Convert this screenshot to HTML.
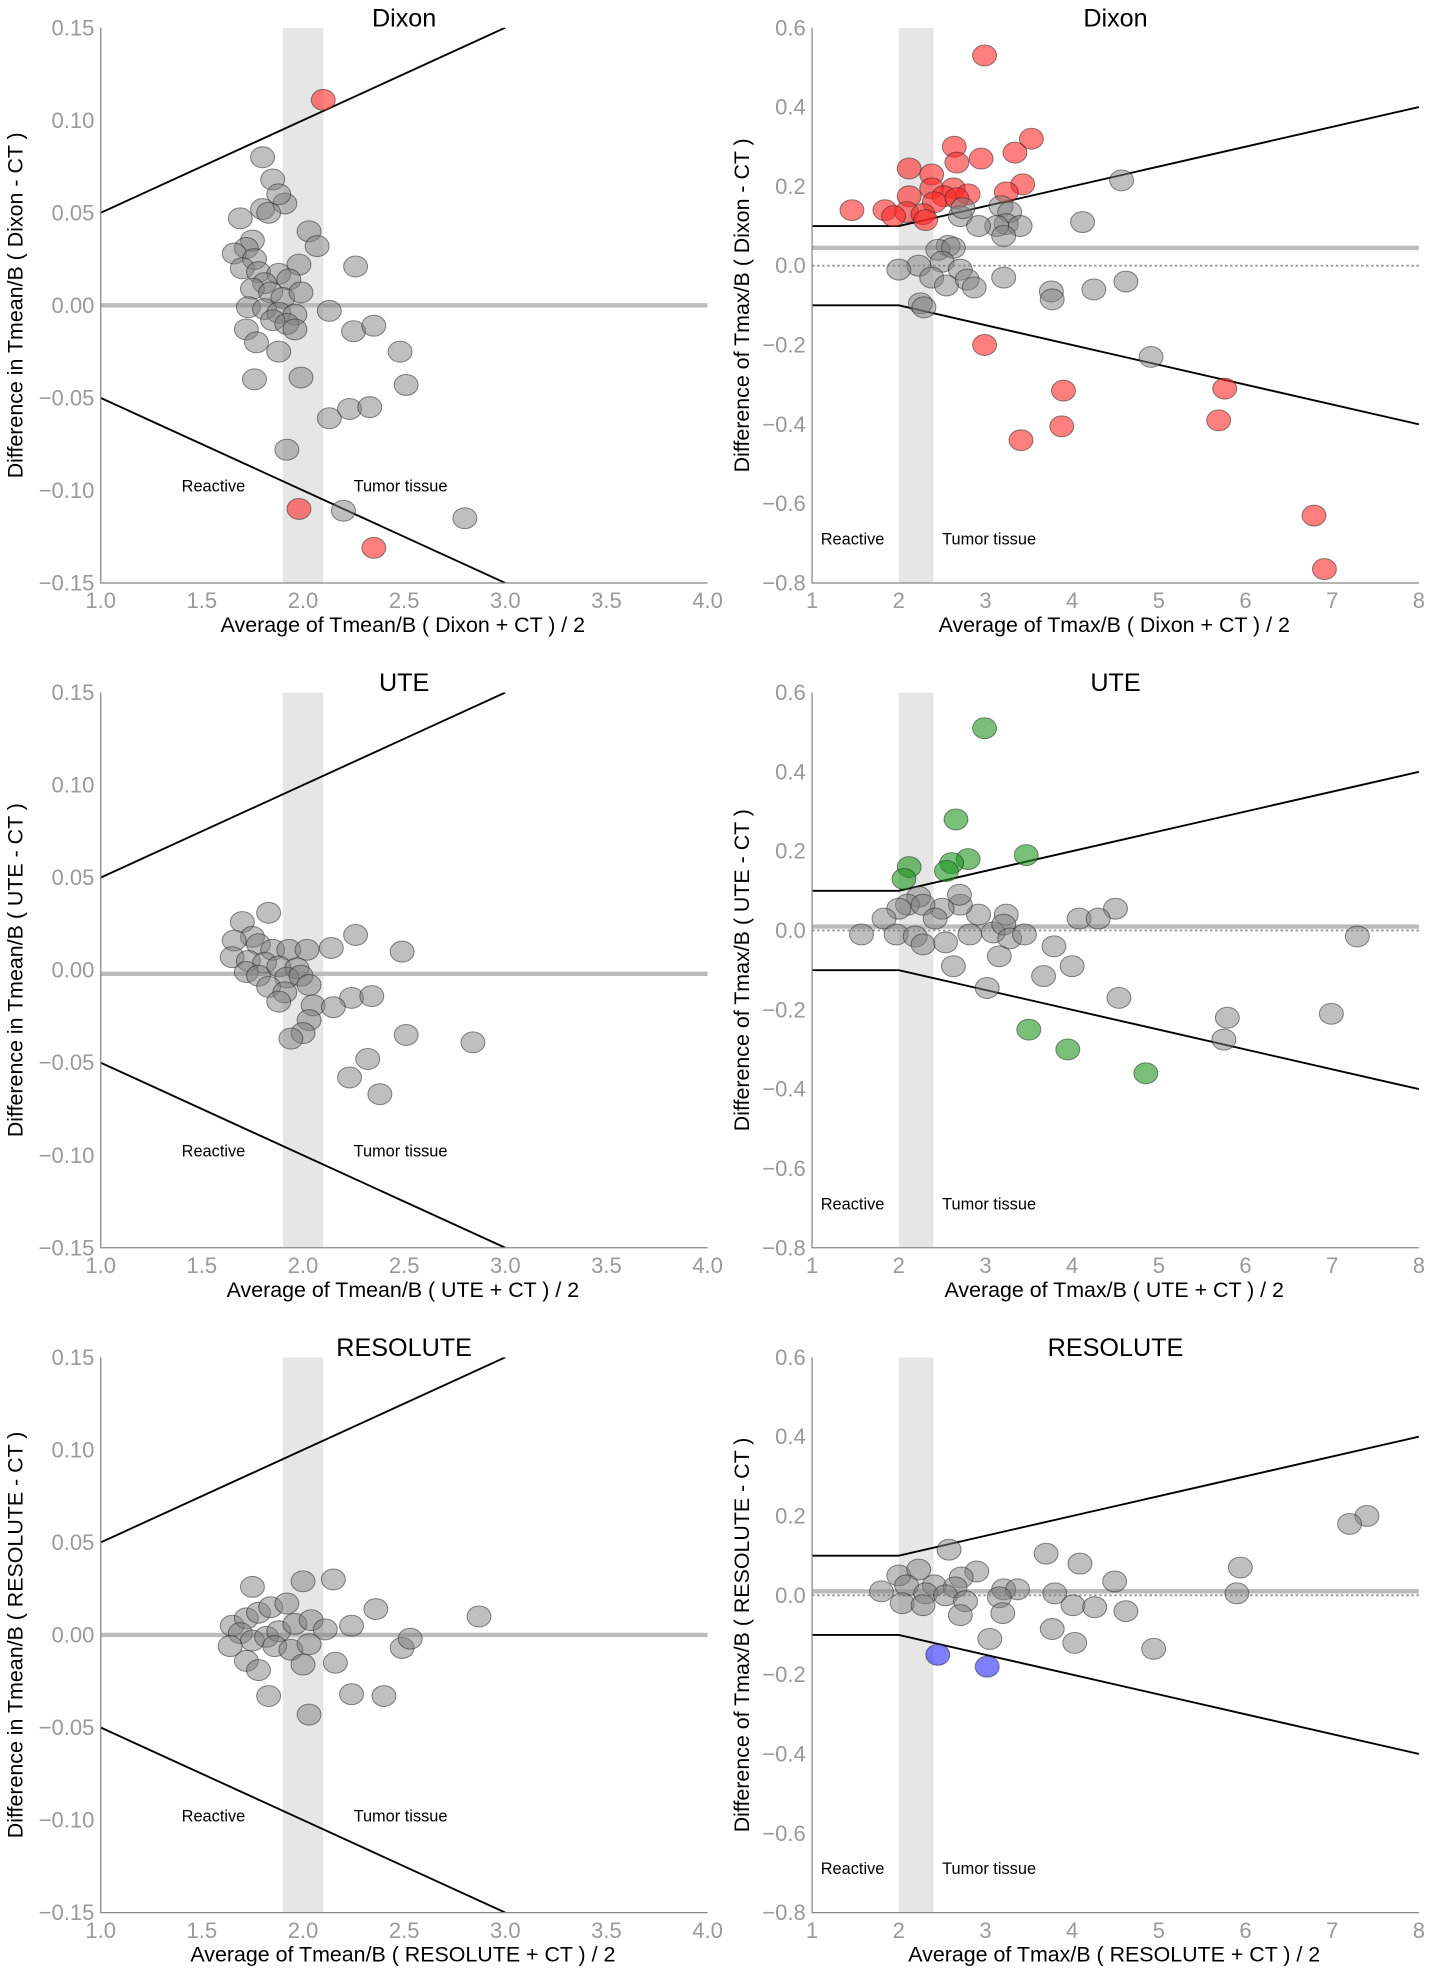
<!DOCTYPE html>
<html><head><meta charset="utf-8"><style>
html,body{margin:0;padding:0;background:#fff;}
svg{display:block;font-family:"Liberation Sans","DejaVu Sans",sans-serif;}
</style></head><body>
<svg id="chart" width="1429" height="1968" viewBox="0 0 1135 1563" preserveAspectRatio="none" xmlns="http://www.w3.org/2000/svg"></svg>
<script>
// ---- data arrays ----
const dixonMeanX=[2.10,1.80,1.85,1.69,1.91,1.80,1.83,1.88,2.03,2.07,1.75,1.72,1.66,1.76,1.70,1.78,1.98,2.26,1.88,1.93,1.81,1.75,1.84,1.90,1.99,1.73,1.81,1.88,1.96,2.13,1.85,1.92,1.96,1.72,1.77,2.25,2.35,1.88,2.48,1.76,1.99,2.51,2.13,2.23,2.33,1.92,1.98,2.20,2.80,2.35];
const dixonMeanY=[0.111,0.080,0.068,0.047,0.055,0.052,0.050,0.060,0.040,0.032,0.035,0.031,0.028,0.025,0.020,0.018,0.022,0.021,0.017,0.014,0.012,0.009,0.007,0.004,0.007,-0.001,-0.002,-0.004,-0.005,-0.003,-0.008,-0.010,-0.013,-0.013,-0.020,-0.014,-0.011,-0.025,-0.025,-0.040,-0.039,-0.043,-0.061,-0.056,-0.055,-0.078,-0.110,-0.111,-0.115,-0.131];
const dixonMeanC=[1,0,0,0,0,0,0,0,0,0,0,0,0,0,0,0,0,0,0,0,0,0,0,0,0,0,0,0,0,0,0,0,0,0,0,0,0,0,0,0,0,0,0,0,0,0,1,0,0,1];
const dixonMaxX=[2.99,3.53,2.64,3.34,2.95,2.67,2.12,2.38,3.43,2.38,2.63,3.24,2.80,2.12,2.52,2.67,2.41,1.84,2.09,2.28,1.94,1.46,2.31,2.99,3.90,5.76,5.69,3.41,3.88,6.79,6.91,
4.57,4.12,3.18,3.28,3.24,3.40,3.13,3.21,2.71,2.92,2.74,2.57,2.45,2.63,2.50,2.23,2.00,2.71,2.38,2.55,2.79,2.87,3.21,3.76,3.77,4.25,4.62,4.91,2.25,2.29];
const dixonMaxY=[0.53,0.32,0.30,0.285,0.27,0.26,0.245,0.23,0.205,0.195,0.195,0.185,0.18,0.175,0.175,0.17,0.16,0.14,0.135,0.13,0.125,0.14,0.115,-0.20,-0.315,-0.31,-0.39,-0.44,-0.405,-0.63,-0.765,
0.215,0.11,0.15,0.135,0.105,0.10,0.10,0.075,0.125,0.10,0.145,0.05,0.04,0.045,0.01,0,-0.01,-0.01,-0.03,-0.05,-0.035,-0.055,-0.03,-0.065,-0.085,-0.06,-0.04,-0.23,-0.095,-0.105];
const dixonMaxC=Array(31).fill(1).concat(Array(30).fill(0));
const uteMeanX=[1.83,1.70,1.75,1.66,1.78,1.85,1.93,2.02,2.14,2.26,2.49,1.65,1.73,1.81,1.88,1.97,1.72,1.78,1.92,1.99,1.83,1.91,2.03,1.88,2.05,2.24,2.34,2.15,2.03,2.00,1.94,2.51,2.84,2.32,2.23,2.38];
const uteMeanY=[0.031,0.026,0.018,0.016,0.014,0.011,0.011,0.011,0.012,0.019,0.010,0.007,0.005,0.004,0.002,0.001,-0.001,-0.003,-0.004,-0.003,-0.009,-0.012,-0.008,-0.017,-0.019,-0.015,-0.014,-0.020,-0.027,-0.034,-0.037,-0.035,-0.039,-0.048,-0.058,-0.067];
const uteMeanC=Array(36).fill(0);
const uteMaxX=[2.99,2.66,2.12,2.80,2.61,2.55,2.06,3.47,3.50,3.95,4.85,
7.29,4.50,4.08,4.30,3.24,2.92,2.71,2.70,2.50,2.23,2.10,2.28,2.42,2.00,1.83,1.97,2.19,2.28,2.54,2.82,3.09,3.21,3.28,3.45,3.16,3.79,3.67,4.00,2.63,3.02,4.54,5.79,5.75,6.99,1.57];
const uteMaxY=[0.51,0.28,0.16,0.18,0.17,0.15,0.13,0.19,-0.25,-0.30,-0.36,
-0.015,0.055,0.03,0.03,0.04,0.04,0.065,0.09,0.055,0.085,0.065,0.065,0.03,0.055,0.03,-0.01,-0.015,-0.035,-0.03,-0.01,-0.005,0.015,-0.02,-0.01,-0.065,-0.04,-0.115,-0.09,-0.09,-0.145,-0.17,-0.22,-0.275,-0.21,-0.01];
const uteMaxC=Array(11).fill(2).concat(Array(35).fill(0));
const resMeanX=[2.00,2.15,1.75,2.36,2.87,2.24,1.65,1.72,1.78,1.84,1.92,1.69,1.75,1.82,1.88,1.96,2.04,2.11,1.86,1.94,2.03,1.72,1.78,2.00,2.16,2.49,2.53,1.83,2.24,2.40,2.03,1.64];
const resMeanY=[0.029,0.030,0.026,0.014,0.010,0.005,0.005,0.009,0.012,0.015,0.017,0.001,-0.003,-0.001,0.002,0.006,0.008,0.003,-0.006,-0.008,-0.005,-0.014,-0.019,-0.016,-0.015,-0.007,-0.002,-0.033,-0.032,-0.033,-0.043,-0.006];
const resMeanC=Array(32).fill(0);
const resMaxX=[2.45,3.02,7.40,7.20,5.94,5.90,4.49,4.09,3.70,2.58,2.90,2.72,2.00,2.23,1.80,2.09,2.41,2.65,2.31,2.04,2.28,2.54,2.77,3.21,3.37,3.16,3.20,2.71,3.80,4.01,4.26,4.62,3.77,4.03,3.05,4.94];
const resMaxY=[-0.15,-0.18,0.20,0.18,0.07,0.005,0.035,0.08,0.105,0.115,0.06,0.045,0.05,0.065,0.01,0.025,0.025,0.02,0.005,-0.02,-0.025,0,-0.015,0.015,0.015,-0.005,-0.045,-0.05,0.005,-0.025,-0.03,-0.04,-0.085,-0.12,-0.11,-0.135];
const resMaxC=[3,3].concat(Array(34).fill(0));
const meanTicksX=["1.0","1.5","2.0","2.5","3.0","3.5","4.0"];
const meanTicksY=["0.15","0.10","0.05","0.00","−0.05","−0.10","−0.15"];
const maxTicksX=["1","2","3","4","5","6","7","8"];
const maxTicksY=["0.6","0.4","0.2","0.0","−0.2","−0.4","−0.6","−0.8"];
const biasMean=[0.0,-0.002,0.0];
const biasMax=[0.045,0.01,0.01];
const titles=["Dixon","UTE","RESOLUTE"];

const NS="http://www.w3.org/2000/svg";
const svg=document.getElementById('chart');
const fills=['rgba(128,128,128,0.5)','rgba(255,40,40,0.6)','rgba(30,150,30,0.6)','rgba(40,40,255,0.6)'];
function mk(tag,attrs,parent){const e=document.createElementNS(NS,tag);for(const k in attrs)e.setAttribute(k,attrs[k]);(parent||svg).appendChild(e);return e;}
function txt(s,attrs,parent){const e=mk('text',attrs,parent);e.textContent=s;return e;}

function panel(r,isMax){
  const name=titles[r];
  const g=mk('g',{});
  
  
  const x0=isMax?645:80,x1=isMax?1127:562,top=22+528*r,bot=463+528*r;
  const xmin=1,xmax=isMax?8:4,ymin=isMax?-0.8:-0.15,ymax=isMax?0.6:0.15;
  const sx=v=>x0+(v-xmin)/(xmax-xmin)*(x1-x0);
  const sy=v=>bot-(v-ymin)/(ymax-ymin)*(bot-top);
  const clip='clip'+r+(isMax?'m':'a');
  const cp=mk('clipPath',{id:clip},g);mk('rect',{x:x0,y:top,width:x1-x0,height:bot-top},cp);
  const pg=mk('g',{'clip-path':'url(#'+clip+')'},g);
  const b0=isMax?2:1.9,b1=isMax?2.4:2.1;
  const band=mk('rect',{x:sx(b0),y:top,width:sx(b1)-sx(b0),height:bot-top,fill:'#e6e6e6'},pg);
  
  
  const bias=isMax?biasMax[r]:biasMean[r];
  const bl=mk('line',{x1:x0,x2:x1,y1:sy(bias),y2:sy(bias),stroke:'#bbbbbb','stroke-width':3.5},pg);
  
  
  if(isMax){
    const zl=mk('line',{x1:x0,x2:x1,y1:sy(0),y2:sy(0),stroke:'#999','stroke-width':1.5,'stroke-dasharray':'2,2'},pg);
    
    
  }
  let up,lo;
  if(isMax){up=[[1,0.1],[2,0.1],[8,0.4]];lo=[[1,-0.1],[2,-0.1],[8,-0.4]];}
  else{up=[[1,0.05],[3,0.15]];lo=[[1,-0.05],[3,-0.15]];}
  [up,lo].forEach((pts,i)=>{
    const p=mk('polyline',{points:pts.map(q=>sx(q[0])+','+sy(q[1])).join(' '),fill:'none',stroke:'#000','stroke-width':1.5},pg);
    
    
  });
  const sets=isMax?[[dixonMaxX,dixonMaxY,dixonMaxC],[uteMaxX,uteMaxY,uteMaxC],[resMaxX,resMaxY,resMaxC]][r]
                  :[[dixonMeanX,dixonMeanY,dixonMeanC],[uteMeanX,uteMeanY,uteMeanC],[resMeanX,resMeanY,resMeanC]][r];
  const [X,Y,C]=sets;
  for(let i=0;i<X.length;i++){
    const c=mk('ellipse',{cx:sx(X[i]),cy:sy(Y[i]),rx:9.5,ry:8.3,fill:fills[C[i]],stroke:'rgba(40,40,40,0.55)','stroke-width':0.8},pg);
    
    
  }
  const ay=isMax?-0.7:-0.1;
  const t1=txt('Reactive',{x:sx(isMax?1.1:1.4),y:sy(ay)+1,'font-size':13},g);
  
  
  const t2=txt('Tumor tissue',{x:sx(isMax?2.5:2.25),y:sy(ay)+1,'font-size':13},g);
  
  
  const sp=mk('path',{d:`M${x0},${top}V${bot}H${x1}`,fill:'none',stroke:'#888','stroke-width':1},g);
  
  
  const tx=isMax?maxTicksX:meanTicksX, ty=isMax?maxTicksY:meanTicksY;
  tx.forEach(s=>{const v=parseFloat(s);const t=txt(s,{x:sx(v),y:bot+20,'font-size':17.5,fill:'#999','text-anchor':'middle'},g);
    });
  ty.forEach(s=>{const v=parseFloat(s.replace('−','-'));const t=txt(s,{x:x0-5,y:sy(v)+6,'font-size':17.5,fill:'#999','text-anchor':'end'},g);
    });
  const method=name;
  const xl=txt(isMax?`Average of Tmax/B ( ${method} + CT ) / 2`:`Average of Tmean/B ( ${method} + CT ) / 2`,{x:(x0+x1)/2-1,y:bot+39,'font-size':17,'text-anchor':'middle'},g);
  
  const lx=isMax?595:18, ly=(top+bot)/2;
  const yl=txt(isMax?`Difference of Tmax/B ( ${method} - CT )`:`Difference in Tmean/B ( ${method} - CT )`,{x:lx,y:ly,'font-size':17,'text-anchor':'middle',transform:`rotate(-90 ${lx} ${ly})`},g);
  
  const tt=txt(name,{x:isMax?886:321,y:top-1,'font-size':20,'text-anchor':'middle'},g);
  
}
for(let r=0;r<3;r++){panel(r,false);panel(r,true);}
</script>
</body></html>
